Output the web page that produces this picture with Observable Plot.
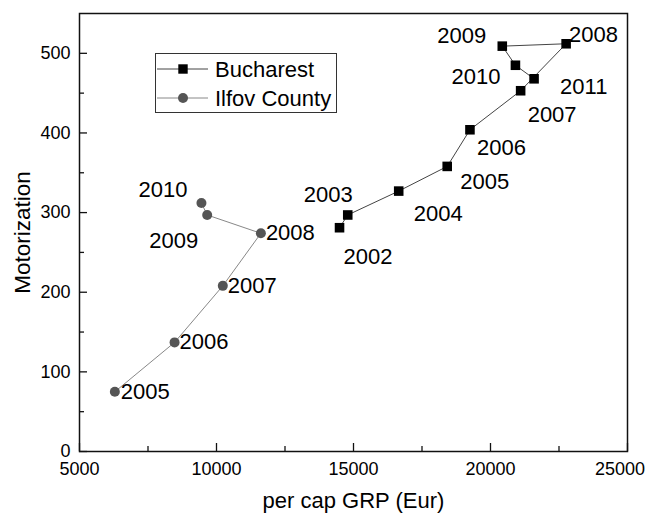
<!DOCTYPE html>
<html>
<head>
<meta charset="utf-8">
<script src="https://cdn.jsdelivr.net/npm/d3@7"></script>
<script src="https://cdn.jsdelivr.net/npm/@observablehq/plot@0.6"></script>
<style>
  body { margin: 0; background: #fff; font-family: "Liberation Sans", Arial, sans-serif; }
  #wrap { position: relative; width: 647px; height: 514px; }
  #legend { position: absolute; left: 155px; top: 53px; width: 182px; height: 60px; border: 1.3px solid #333; box-sizing: border-box; background: #fff; }
  #legend svg { display: block; }
</style>
</head>
<body>
<div id="wrap"></div>
<script>
// ---- data ----
const bucharestYears = [2002, 2003, 2004, 2005, 2006, 2007, 2008, 2009, 2010, 2011];
const bucharestGRP   = [14490, 14790, 16650, 18420, 19250, 21100, 22760, 20430, 20910, 21590];
const bucharestMotor = [281, 297, 327, 358, 404, 453, 512, 509, 485, 468];

const ilfovYears = [2005, 2006, 2007, 2008, 2009, 2010];
const ilfovGRP   = [6290, 8470, 10230, 11620, 9660, 9450];
const ilfovMotor = [75, 137, 208, 274, 297, 312];

const xTicksMajor = [5000, 10000, 15000, 20000, 25000];
const xTicksMinor = [7500, 12500, 17500, 22500];
const yTicksMajor = [0, 100, 200, 300, 400, 500];
const yTicksMinor = [50, 150, 250, 350, 450];

const seriesNames = ["Bucharest", "Ilfov County"];
const xTitle = "per cap GRP (Eur)";
const yTitle = "Motorization";

// ---- build tables ----
const buch = bucharestYears.map((yr, i) => ({year: yr, x: bucharestGRP[i], y: bucharestMotor[i]}));
const ilf = ilfovYears.map((yr, i) => ({year: yr, x: ilfovGRP[i], y: ilfovMotor[i]}));

// label placement (layout, not data): [dx, dy, anchor]
const buchLabelPos = {
  2002: [4, 29, "start"], 2003: [5, -20, "end"], 2004: [15, 23, "start"],
  2005: [13, 16, "start"], 2006: [7, 18, "start"], 2007: [7, 24, "start"],
  2008: [3, -9, "start"], 2009: [-16, -10, "end"], 2010: [-15, 12, "end"],
  2011: [26, 8, "start"]
};
const ilfLabelPos = {
  2005: [6, 0, "start"], 2006: [5, 0, "start"], 2007: [5, 0, "start"],
  2008: [5, 0, "start"], 2009: [-9, 26, "end"], 2010: [-14, -13, "end"]
};

const W = 647, H = 514;
const mT = 13, mB = 63, mL = 79, mR = 20;
const frameH = H - mT - mB;
const frameW = W - mL - mR;
const FONT = "Liberation Sans, Arial, sans-serif";

function labelMarks(rows, pos) {
  return rows.map(d => {
    const [dx, dy, anchor] = pos[d.year];
    return Plot.text([d], {x: "x", y: "y", text: d => String(d.year), dx, dy, textAnchor: anchor,
      fontSize: 22, fill: "#000", fontFamily: FONT});
  });
}

const lastX = xTicksMajor[xTicksMajor.length - 1];

const chart = Plot.plot({
  width: W, height: H,
  marginTop: mT, marginBottom: mB, marginLeft: mL, marginRight: mR,
  style: {fontFamily: FONT, background: "#fff", color: "#000"},
  x: {domain: [5000, 25000]},
  y: {domain: [0, 550]},
  marks: [
    // ticks (inward)
    Plot.tickX(xTicksMajor, {x: d => d, insetTop: frameH - 8, stroke: "#111", strokeWidth: 1.3}),
    Plot.tickX(xTicksMinor, {x: d => d, insetTop: frameH - 5, stroke: "#111", strokeWidth: 1.3}),
    Plot.tickY(yTicksMajor, {y: d => d, insetRight: frameW - 8, stroke: "#111", strokeWidth: 1.3}),
    Plot.tickY(yTicksMinor, {y: d => d, insetRight: frameW - 5, stroke: "#111", strokeWidth: 1.3}),
    Plot.axisX({ticks: xTicksMajor.slice(0, -1), tickSize: 0, tickPadding: 10.5, tickFormat: d => String(d), fontSize: 18, label: null}),
    Plot.text([lastX], {x: d => d, frameAnchor: "bottom", lineAnchor: "middle", dx: -7.5, dy: 17.5, text: d => String(d), fontSize: 18, fill: "#000", fontFamily: FONT}),
    Plot.axisY({ticks: yTicksMajor, tickSize: 0, tickPadding: 9, tickFormat: d => String(d), fontSize: 18, label: null}),
    Plot.text([xTitle], {frameAnchor: "bottom", lineAnchor: "middle", dy: 49, fontSize: 22, fill: "#000", fontFamily: FONT}),
    Plot.text([yTitle], {frameAnchor: "left", textAnchor: "middle", dx: -57, rotate: -90, fontSize: 22.5, fill: "#000", fontFamily: FONT}),
    // series
    Plot.line(ilf, {x: "x", y: "y", stroke: "#888", strokeWidth: 1}),
    Plot.dot(ilf, {x: "x", y: "y", r: 5, fill: "#555", stroke: "none", symbol: "circle"}),
    Plot.line(buch, {x: "x", y: "y", stroke: "#444", strokeWidth: 1}),
    Plot.dot(buch, {x: "x", y: "y", r: 5.4, fill: "#000", stroke: "none", symbol: "square"}),
    ...labelMarks(buch, buchLabelPos),
    ...labelMarks(ilf, ilfLabelPos),
    Plot.frame({stroke: "#111", strokeWidth: 1.5})
  ]
});

const wrap = document.getElementById("wrap");
wrap.appendChild(chart);

// legend overlay
const leg = document.createElement("div");
leg.id = "legend";
const ls = d3.create("svg").attr("width", 180).attr("height", 58);
const rows = [
  {name: seriesNames[0], line: "#444", fill: "#000", shape: "square"},
  {name: seriesNames[1], line: "#888", fill: "#555", shape: "circle"}
];
rows.forEach((r, i) => {
  const cy = 15 + i * 29;
  ls.append("line").attr("x1", 1).attr("x2", 52).attr("y1", cy).attr("y2", cy).attr("stroke", r.line).attr("stroke-width", 1);
  if (r.shape === "square") ls.append("rect").attr("x", 27 - 4.7).attr("y", cy - 4.7).attr("width", 9.4).attr("height", 9.4).attr("fill", r.fill);
  else ls.append("circle").attr("cx", 27).attr("cy", cy).attr("r", 5).attr("fill", r.fill);
  ls.append("text").attr("x", 59).attr("y", cy).attr("dy", "0.35em").attr("font-size", 22)
    .attr("font-family", FONT).attr("fill", "#000").text(r.name);
});
leg.appendChild(ls.node());
wrap.appendChild(leg);
</script>
</body>
</html>
